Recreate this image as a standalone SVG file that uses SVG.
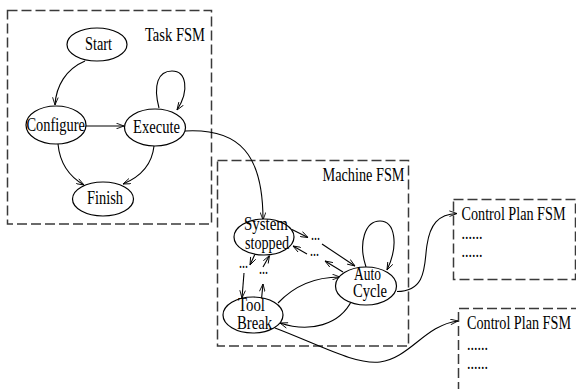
<svg xmlns="http://www.w3.org/2000/svg" width="576" height="389" viewBox="0 0 576 389">
  <style>
    .frame { fill: none; stroke: #3a3a3a; stroke-width: 1.5; stroke-dasharray: 10 4; }
    .state { fill: #ffffff; stroke: #000000; stroke-width: 1.2; }
    .edge { fill: none; stroke: #000000; stroke-width: 1.1; marker-end: url(#arrow); }
    text { font-family: "Liberation Serif", "Times New Roman", serif; font-size: 18px; fill: #000000; }
  </style>
  <defs>
    <marker id="arrow" viewBox="0 0 10 8" refX="10" refY="4" markerWidth="8" markerHeight="6.4" markerUnits="userSpaceOnUse" orient="auto">
      <path d="M0.5,0.5 L10,4 L0.5,7.5" fill="none" stroke="#000000" stroke-width="1.1"/>
    </marker>
  </defs>

  <!-- Frames -->
  <g id="task-fsm">
    <rect class="frame" x="7.5" y="10.5" width="204" height="213.5"/>
    <text x="145" y="40.5" textLength="60" lengthAdjust="spacingAndGlyphs">Task FSM</text>
  </g>
  <g id="machine-fsm">
    <rect class="frame" x="217.5" y="160.5" width="191" height="185.5"/>
    <text x="322.5" y="180.5" textLength="82" lengthAdjust="spacingAndGlyphs">Machine FSM</text>
  </g>
  <g id="control-plan-1">
    <rect class="frame" x="453.5" y="199.5" width="122" height="80"/>
    <text x="461.5" y="219.5" textLength="104" lengthAdjust="spacingAndGlyphs">Control Plan FSM</text>
    <text x="461.5" y="238.5" textLength="21" lengthAdjust="spacingAndGlyphs">......</text>
    <text x="461.5" y="257" textLength="21" lengthAdjust="spacingAndGlyphs">......</text>
  </g>
  <g id="control-plan-2">
    <path class="frame" d="M458.5,392 V308.5 H580"/>
    <text x="467" y="328.5" textLength="104" lengthAdjust="spacingAndGlyphs">Control Plan FSM</text>
    <text x="467" y="349.5" textLength="21" lengthAdjust="spacingAndGlyphs">......</text>
    <text x="467" y="368.5" textLength="21" lengthAdjust="spacingAndGlyphs">......</text>
  </g>

  <!-- Connectors -->
  <g id="connectors">
    <path class="edge" d="M85,61 C66,69 56,86 55,105"/>
    <path class="edge" d="M86,126 L124,126"/>
    <path class="edge" d="M159,108 C153,85 158,71 172,71 C186,71 190,90 177,110"/>
    <path class="edge" d="M58,144 C60,165 70,177 84,185"/>
    <path class="edge" d="M154,146 C152,165 140,177 123,184"/>
    <path class="edge" d="M185,131 C240,128 263,155 263,220"/>

    <path class="edge" d="M292,229.5 L308,237.5"/>
    <path class="edge" d="M322,244 L355,266"/>
    <path class="edge" d="M343,272 L325,261"/>
    <path class="edge" d="M307,254 L293,246"/>
    <path class="edge" d="M255.5,253 L250,265"/>
    <path class="edge" d="M244,273 L242,298"/>
    <path class="edge" d="M261.5,299 L263,284"/>
    <path class="edge" d="M263,267 L269.5,255.5"/>

    <path class="edge" d="M278,303 C295,285 315,277 340,277"/>
    <path class="edge" d="M352,300 C340,325 310,333 280,323"/>
    <path class="edge" d="M366,267 C358,243 365,221 380,221 C395,221 399,245 387,270"/>
    <path class="edge" d="M397,291.5 C428,291.5 424,262 427,245 C430,225 438,214 457,213.5"/>
    <path class="edge" d="M275,328 C320,345 355,365 380,362 C410,358 425,325 458,321"/>
  </g>

  <!-- Task states -->
  <g id="start">
    <ellipse class="state" cx="97" cy="44.5" rx="30" ry="16.5"/>
    <text x="85" y="50" textLength="27" lengthAdjust="spacingAndGlyphs">Start</text>
  </g>
  <g id="configure">
    <ellipse class="state" cx="56" cy="125" rx="30" ry="19"/>
    <text x="26.5" y="131" textLength="58.5" lengthAdjust="spacingAndGlyphs">Configure</text>
  </g>
  <g id="execute">
    <ellipse class="state" cx="155" cy="127.5" rx="30.5" ry="18.5"/>
    <text x="133" y="133" textLength="47" lengthAdjust="spacingAndGlyphs">Execute</text>
  </g>
  <g id="finish">
    <ellipse class="state" cx="103" cy="199" rx="30.5" ry="17"/>
    <text x="87" y="204" textLength="36" lengthAdjust="spacingAndGlyphs">Finish</text>
  </g>

  <!-- Machine states -->
  <g id="system-stopped">
    <ellipse class="state" cx="264" cy="237" rx="30" ry="18"/>
    <text x="244" y="230" textLength="44" lengthAdjust="spacingAndGlyphs">System</text>
    <text x="245" y="248.5" textLength="44" lengthAdjust="spacingAndGlyphs">stopped</text>
  </g>
  <g id="tool-break">
    <ellipse class="state" cx="253" cy="315" rx="30" ry="18"/>
    <text x="238" y="311" textLength="27" lengthAdjust="spacingAndGlyphs">Tool</text>
    <text x="237" y="328.5" textLength="35" lengthAdjust="spacingAndGlyphs">Break</text>
  </g>
  <g id="auto-cycle">
    <ellipse class="state" cx="366" cy="286" rx="30.5" ry="19"/>
    <text x="354" y="279.5" textLength="27" lengthAdjust="spacingAndGlyphs">Auto</text>
    <text x="353" y="297" textLength="34" lengthAdjust="spacingAndGlyphs">Cycle</text>
  </g>

  <!-- Elided transitions -->
  <g id="ellipsis-labels">
    <text x="311" y="239.5" textLength="9" lengthAdjust="spacingAndGlyphs">...</text>
    <text x="310" y="256" textLength="9" lengthAdjust="spacingAndGlyphs">...</text>
    <text x="239" y="268" textLength="9" lengthAdjust="spacingAndGlyphs">...</text>
    <text x="259" y="273.5" textLength="9" lengthAdjust="spacingAndGlyphs">...</text>
  </g>
</svg>
